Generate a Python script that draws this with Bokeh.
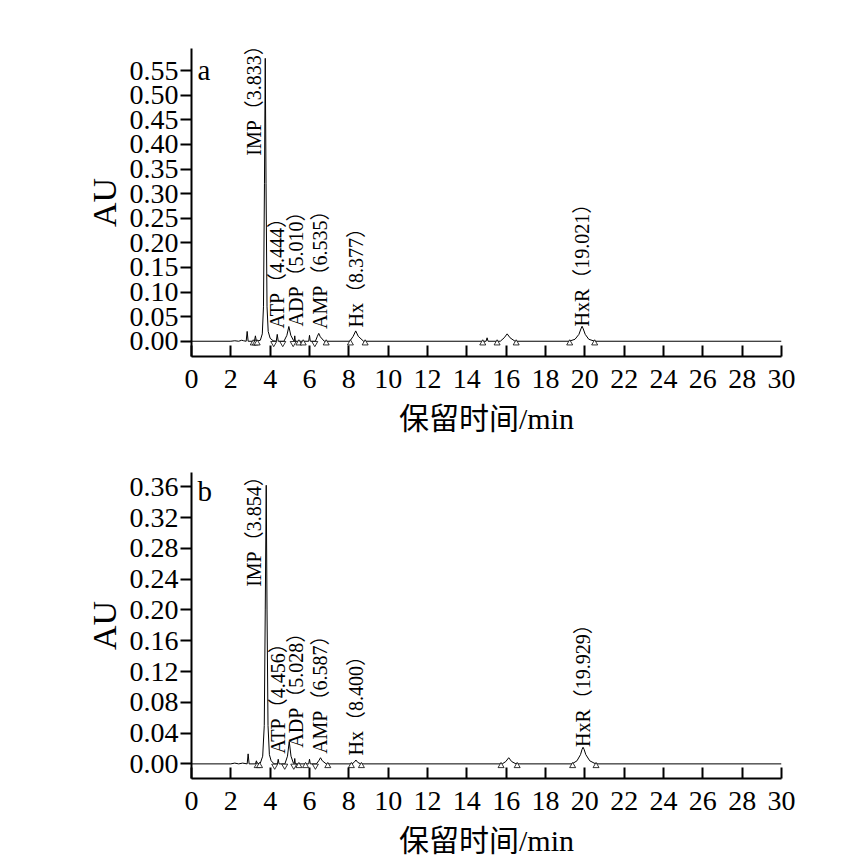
import numpy as np
from bokeh.plotting import figure
from bokeh.layouts import column
from bokeh.models import FixedTicker, Label
from bokeh.embed import file_html
from bokeh.resources import INLINE

# ---------------- data: panel a ----------------
a_time = [0, 2.0, 2.2, 2.4, 2.55, 2.65, 2.78, 2.83, 2.88, 3.2, 3.25, 3.30,
          3.50, 3.60, 3.66, 3.71, 3.75, 3.79, 3.84, 3.90, 4.0, 4.15,
          4.31, 4.36, 4.41, 4.7, 4.85, 4.95, 5.05, 5.18, 5.22, 5.25, 5.28,
          5.96, 6.0, 6.04, 6.3, 6.40, 6.47, 6.55, 6.75,
          8.05, 8.22, 8.35, 8.48, 8.75,
          14.98, 15.03, 15.08, 15.7, 15.9, 16.05, 16.2, 16.45,
          19.2, 19.5, 19.7, 19.8, 19.86, 19.92, 20.02, 20.2, 20.5, 30]
a_au = [0, 0, 0.001, 0, 0.002, 0.001, 0, 0.020, 0, 0, 0.011, 0,
        0.002, 0.015, 0.07, 0.32, 0.575, 0.32, 0.07, 0.02, 0.006, 0.001,
        0, 0.014, 0, 0, 0.012, 0.030, 0.012, 0.002, 0, 0.011, 0,
        0, 0.012, 0, 0, 0.010, 0.016, 0.009, 0,
        0, 0.010, 0.021, 0.010, 0,
        0, 0.007, 0, 0, 0.007, 0.015, 0.007, 0,
        0, 0.004, 0.014, 0.025, 0.0305, 0.025, 0.014, 0.004, 0, 0]
a_up_marks = [3.14, 3.25, 3.34, 5.46, 5.68, 6.85, 8.08, 8.83, 14.81, 15.54, 16.51, 19.23, 20.50]
a_down_marks = [4.18, 4.64, 5.17, 6.27]
a_labels = ["IMP（3.833）", "ATP（4.444）", "ADP（5.010）", "AMP（6.535）", "Hx（8.377）", "HxR（19.021）"]
a_label_x = [3.2, 4.36, 5.29, 6.52, 8.37, 19.84]
a_label_y = [0.377, 0.026, 0.030, 0.025, 0.028, 0.030]
a_ticks = [0.00, 0.05, 0.10, 0.15, 0.20, 0.25, 0.30, 0.35, 0.40, 0.45, 0.50, 0.55]

# ---------------- data: panel b ----------------
b_time = [0, 2.0, 2.2, 2.4, 2.6, 2.83, 2.88, 2.93, 3.25, 3.30, 3.35,
          3.50, 3.62, 3.70, 3.75, 3.80, 3.84, 3.89, 3.96, 4.05, 4.2,
          4.37, 4.41, 4.45, 4.75, 4.88, 4.97, 5.06, 5.18, 5.22, 5.25, 5.28,
          5.96, 6.0, 6.04, 6.35, 6.47, 6.56, 6.65, 6.85,
          8.15, 8.27, 8.36, 8.45, 8.6,
          15.8, 15.98, 16.13, 16.28, 16.5,
          19.35, 19.6, 19.78, 19.86, 19.91, 19.96, 20.05, 20.25, 20.55, 30]
b_au = [0, 0, 0.001, 0, 0.001, 0, 0.013, 0, 0, 0.004, 0,
        0.001, 0.010, 0.05, 0.20, 0.362, 0.20, 0.05, 0.012, 0.004, 0,
        0, 0.006, 0, 0, 0.010, 0.029, 0.010, 0.001, 0, 0.007, 0,
        0, 0.006, 0, 0, 0.004, 0.008, 0.004, 0,
        0, 0.002, 0.005, 0.002, 0,
        0, 0.003, 0.008, 0.003, 0,
        0, 0.004, 0.012, 0.019, 0.0216, 0.019, 0.012, 0.004, 0, 0]
b_up_marks = [3.34, 3.46, 5.46, 5.80, 6.93, 8.13, 8.64, 15.74, 16.56, 19.38, 20.57]
b_down_marks = [4.23, 4.74, 5.20, 6.30]
b_labels = ["IMP（3.854）", "ATP（4.456）", "ADP（5.028）", "AMP（6.587）", "Hx（8.400）", "HxR（19.929）"]
b_label_x = [3.2, 4.41, 5.29, 6.52, 8.37, 19.93]
b_label_y = [0.230, 0.013, 0.021, 0.013, 0.011, 0.022]
b_ticks = [0.00, 0.04, 0.08, 0.12, 0.16, 0.20, 0.24, 0.28, 0.32, 0.36]

x_ticks = list(range(0, 31, 2))

SERIF = "Liberation Serif"
CJK = "Liberation Serif, Noto Sans CJK SC"


def panel(letter, t, au, up, down, labs, lx, ly, yticks, yrange, letter_y,
          height, top, bottom, fh, mark_dy):
    p = figure(width=831, height=height, frame_width=590, frame_height=fh,
               x_range=(0, 30), y_range=yrange,
               output_backend="svg", toolbar_location=None,
               min_border_left=191, min_border_right=50,
               min_border_top=top, min_border_bottom=bottom)
    p.outline_line_color = None
    p.grid.visible = False
    p.background_fill_color = "white"
    p.border_fill_color = "white"

    p.line(t, au, line_color="black", line_width=1)
    p.scatter(up, [-mark_dy] * len(up), marker="triangle", size=6,
              line_color="black", fill_color="white", line_width=0.8)
    p.scatter(down, [-mark_dy] * len(down), marker="inverted_triangle", size=6,
              line_color="black", fill_color="white", line_width=0.8)
    for txt, x, y in zip(labs, lx, ly):
        p.add_layout(Label(x=x, y=y, text=txt, angle=np.pi / 2,
                           text_font=CJK, text_font_size="20px",
                           text_align="left", text_baseline="middle",
                           text_color="black"))
    p.add_layout(Label(x=0.3, y=letter_y, text=letter, text_font=SERIF,
                       text_font_size="29px", text_align="left",
                       text_baseline="alphabetic", text_color="black"))

    xa = p.xaxis[0]
    xa.ticker = FixedTicker(ticks=x_ticks)
    xa.minor_tick_line_color = None
    xa.major_tick_in = 11
    xa.major_tick_out = 0
    xa.axis_line_width = 2
    xa.major_tick_line_width = 2
    xa.axis_line_color = "black"
    xa.major_tick_line_color = "black"
    xa.major_label_text_font = SERIF
    xa.major_label_text_font_size = "28px"
    xa.major_label_text_color = "black"
    xa.major_label_standoff = 13
    xa.axis_label = "保留时间/min"
    xa.axis_label_text_font = CJK
    xa.axis_label_text_font_size = "30px"
    xa.axis_label_text_font_style = "normal"
    xa.axis_label_text_color = "black"
    xa.axis_label_standoff = 11

    ya = p.yaxis[0]
    ya.ticker = FixedTicker(ticks=yticks)
    ya.major_label_overrides = {v: f"{v:.2f}" for v in yticks}
    ya.minor_tick_line_color = None
    ya.major_tick_in = 0
    ya.major_tick_out = 11
    ya.axis_line_width = 2
    ya.major_tick_line_width = 2
    ya.axis_line_color = "black"
    ya.major_tick_line_color = "black"
    ya.major_label_text_font = SERIF
    ya.major_label_text_font_size = "28px"
    ya.major_label_text_color = "black"
    ya.major_label_standoff = 2
    ya.axis_label = "AU"
    ya.axis_label_text_font = SERIF
    ya.axis_label_text_font_size = "34px"
    ya.axis_label_text_font_style = "normal"
    ya.axis_label_text_color = "black"
    ya.axis_label_standoff = 4
    return p


pa = panel("a", a_time, a_au, a_up_marks, a_down_marks, a_labels, a_label_x,
           a_label_y, a_ticks, (-0.031, 0.595), 0.552, 446, 48, 90, 308, 0.004)
pb = panel("b", b_time, b_au, b_up_marks, b_down_marks, b_labels, b_label_x,
           b_label_y, b_ticks, (-0.019, 0.3786), 0.355, 407, 26, 75, 306, 0.0026)

layout = column(pa, pb, spacing=0)
open("out.html", "w").write(file_html(layout, INLINE))
